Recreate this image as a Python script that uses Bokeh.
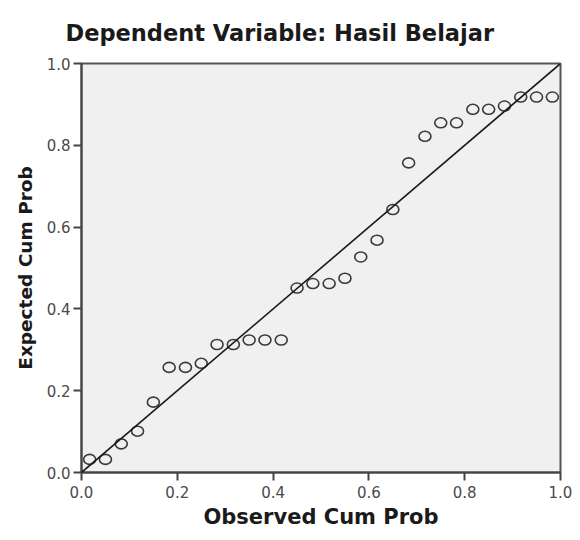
from bokeh.plotting import figure
from bokeh.models import Range1d, FixedTicker, Slope, ColumnDataSource
from bokeh.embed import file_html
from bokeh.resources import INLINE

# Observed vs expected cumulative probabilities (P-P plot)
observed = [0.017, 0.050, 0.083, 0.117, 0.150, 0.183, 0.217, 0.250, 0.283, 0.317,
            0.350, 0.383, 0.417, 0.450, 0.483, 0.517, 0.550, 0.583, 0.617, 0.650,
            0.683, 0.717, 0.750, 0.783, 0.817, 0.850, 0.883, 0.917, 0.950, 0.983]
expected = [0.032, 0.032, 0.070, 0.101, 0.172, 0.257, 0.257, 0.267, 0.313, 0.313,
            0.324, 0.324, 0.324, 0.451, 0.462, 0.462, 0.475, 0.527, 0.568, 0.643,
            0.757, 0.822, 0.855, 0.855, 0.888, 0.888, 0.896, 0.918, 0.918, 0.918]
tick_values = [0.0, 0.2, 0.4, 0.6, 0.8, 1.0]
tick_labels = ["0.0", "0.2", "0.4", "0.6", "0.8", "1.0"]
ref_gradient = 1.0
ref_intercept = 0.0

title_text = "Dependent Variable: Hasil Belajar"
x_label = "Observed Cum Prob"
y_label = "Expected Cum Prob"

source = ColumnDataSource(data=dict(x=observed, y=expected))

p = figure(width=572, height=532,
           x_range=Range1d(0, 1), y_range=Range1d(0, 1),
           output_backend="svg", toolbar_location=None,
           min_border_left=81, min_border_right=12,
           min_border_top=0, min_border_bottom=60,
           background_fill_color="#f0f0f0", border_fill_color="white")

p.title.text = title_text
p.title.text_font = "DejaVu Sans"
p.title.text_font_size = "22.5px"
p.title.text_font_style = "bold"
p.title.text_color = "#1a1a1a"
p.title.align = "left"
p.title.offset = -16
p.title.standoff = 35

p.grid.visible = False
p.outline_line_color = "#555555"
p.outline_line_width = 2

for ax in (p.xaxis[0], p.yaxis[0]):
    ax.ticker = FixedTicker(ticks=tick_values)
    ax.major_label_overrides = {v: l for v, l in zip(tick_values, tick_labels)}
    ax.minor_tick_line_color = None
    ax.major_tick_in = 0
    ax.major_tick_out = 8
    ax.major_tick_line_color = "#444444"
    ax.major_tick_line_width = 2
    ax.axis_line_color = "#444444"
    ax.axis_line_width = 2
    ax.major_label_text_font = "DejaVu Sans"
    ax.major_label_text_font_size = "15px"
    ax.major_label_text_color = "#4a4a4a"
    ax.axis_label_text_font = "DejaVu Sans"
    ax.axis_label_text_font_style = "bold"
    ax.axis_label_text_color = "#1a1a1a"

p.xaxis[0].axis_label = x_label
p.xaxis[0].axis_label_text_font_size = "21px"
p.xaxis[0].major_label_standoff = 5
p.xaxis[0].axis_label_standoff = 4

p.yaxis[0].axis_label = y_label
p.yaxis[0].axis_label_text_font_size = "18.5px"
p.yaxis[0].major_label_standoff = 3
p.yaxis[0].axis_label_standoff = 8

p.add_layout(Slope(gradient=ref_gradient, y_intercept=ref_intercept,
                   line_color="#1a1a1a", line_width=1.6))

p.ellipse(x="x", y="y", width=12, height=10, width_units="screen", height_units="screen",
          source=source, fill_color=None, line_color="#3a3a3a", line_width=1.6)

open("out.html", "w").write(file_html(p, INLINE))
